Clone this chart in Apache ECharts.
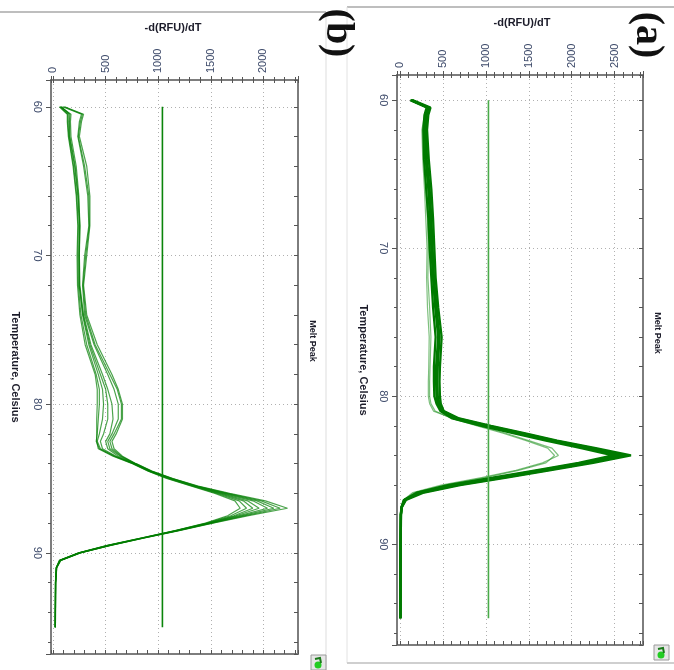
<!DOCTYPE html>
<html>
<head>
<meta charset="utf-8">
<script src="https://cdn.jsdelivr.net/npm/echarts@6/dist/echarts.min.js"></script>
<style>
html, body { margin: 0; padding: 0; background: #fff; }
#chart { width: 674px; height: 670px; }
</style>
</head>
<body>
<div id="chart"></div>
<script>
// panel (a): temperatures (Celsius) and -d(RFU)/dT of each melt curve
const tempA = [60, 60.5, 61, 62, 64, 66, 68, 70, 72, 74, 76, 78, 79, 80, 80.5, 81, 81.5, 82, 82.5, 83, 83.5, 84, 84.5, 85, 85.5, 86, 86.5, 87, 87.5, 88, 90, 92, 95]
const a1 = [145, 355, 330, 315, 335, 365, 385, 400, 415, 445, 485, 465, 460, 465, 475, 510, 690, 1060, 1460, 1830, 2280, 2690, 2250, 1740, 1240, 700, 280, 70, 22, 12, 8, 6, 5]
const a2 = [135, 335, 310, 300, 315, 345, 365, 380, 395, 425, 460, 440, 435, 440, 460, 500, 670, 1030, 1430, 1800, 2240, 2640, 2200, 1700, 1200, 660, 250, 60, 20, 11, 7, 5, 5]
const a3 = [130, 330, 305, 295, 305, 335, 355, 370, 390, 420, 455, 430, 428, 432, 450, 490, 650, 1000, 1400, 1770, 2200, 2590, 2160, 1660, 1160, 620, 230, 55, 18, 10, 7, 5, 4]
const a4 = [130, 325, 300, 290, 300, 330, 350, 365, 385, 410, 445, 420, 420, 425, 440, 480, 630, 980, 1370, 1740, 2160, 2540, 2120, 1620, 1120, 590, 210, 50, 17, 10, 6, 5, 4]
const a5 = [120, 310, 285, 272, 280, 305, 330, 345, 365, 385, 415, 395, 395, 400, 425, 470, 610, 950, 1330, 1700, 2110, 2480, 2080, 1580, 1080, 560, 200, 45, 16, 9, 6, 5, 4]
const aLow1 = [130, 320, 285, 255, 265, 285, 300, 315, 310, 320, 340, 335, 330, 330, 345, 390, 620, 930, 1230, 1500, 1770, 1845, 1660, 1350, 950, 480, 150, 40, 18, 10, 7, 5, 5]
const aLow2 = [125, 310, 290, 265, 280, 300, 320, 330, 325, 345, 360, 350, 345, 345, 360, 410, 600, 900, 1200, 1470, 1720, 1800, 1700, 1380, 990, 520, 170, 45, 20, 10, 7, 5, 5]

// panel (b)
const tempB = [60, 60.5, 61, 62, 64, 66, 68, 70, 72, 74, 76, 78, 79, 80, 81, 82, 82.5, 83, 83.5, 84, 84.5, 85, 85.5, 86, 86.5, 87, 87.5, 88, 88.5, 89, 89.5, 90, 90.5, 91, 92, 95]
const b1 = [110, 290, 270, 250, 320, 350, 350, 320, 290, 320, 420, 560, 620, 660, 660, 600, 560, 580, 660, 790, 940, 1140, 1380, 1680, 2020, 2230, 1860, 1520, 1200, 870, 550, 260, 75, 35, 25, 22]
const b2 = [100, 280, 260, 240, 300, 340, 345, 310, 285, 310, 400, 540, 610, 650, 650, 580, 540, 560, 650, 785, 935, 1135, 1370, 1660, 1980, 2160, 1830, 1510, 1190, 865, 545, 258, 72, 34, 25, 22]
const b3 = [90, 270, 250, 235, 290, 330, 340, 300, 280, 300, 390, 520, 580, 620, 620, 560, 520, 540, 640, 780, 930, 1130, 1360, 1640, 1940, 2100, 1800, 1500, 1185, 860, 540, 255, 70, 33, 24, 21]
const b4 = [70, 170, 165, 170, 220, 245, 255, 250, 255, 290, 360, 470, 520, 560, 570, 540, 500, 520, 620, 775, 925, 1120, 1350, 1620, 1900, 2040, 1770, 1490, 1180, 855, 535, 252, 68, 32, 24, 21]
const b5 = [75, 160, 155, 160, 210, 240, 255, 248, 250, 285, 350, 450, 500, 520, 520, 480, 450, 470, 600, 770, 920, 1110, 1340, 1600, 1850, 1960, 1740, 1480, 1175, 850, 530, 250, 66, 31, 23, 20]
const b6 = [80, 150, 150, 155, 205, 235, 250, 245, 248, 280, 340, 430, 470, 480, 470, 440, 420, 450, 590, 765, 915, 1100, 1330, 1580, 1810, 1900, 1720, 1470, 1170, 845, 525, 248, 64, 30, 23, 20]
const b7 = [65, 140, 140, 150, 195, 225, 240, 235, 240, 265, 320, 410, 440, 440, 430, 420, 410, 440, 580, 760, 910, 1090, 1320, 1560, 1770, 1840, 1690, 1460, 1165, 840, 520, 245, 62, 30, 22, 20]
const b8 = [60, 135, 135, 145, 190, 220, 235, 228, 232, 255, 305, 400, 420, 420, 415, 415, 415, 430, 570, 755, 905, 1080, 1310, 1540, 1730, 1780, 1660, 1450, 1160, 835, 515, 242, 60, 29, 22, 19]

// threshold lines
const thresholdTemps = [60, 95]
const thresholdA = 1030
const thresholdB = 1040

const labelColor = '#3d4a6a'
const frameColor = '#7d7d7d'

function pairs(temps, vals) {
    return vals.map(function (v, i) { return [v, temps[i]] })
}

function xAxesFor(g, min, max, mainSplit, minorSplit) {
    const base = {
        type: 'value', gridIndex: g, min: min, max: max,
        axisLine: { show: false, onZero: false },
        axisLabel: { show: false }, axisTick: { show: false }, splitLine: { show: false }
    }
    return [
        Object.assign({}, base, {
            position: 'top', splitNumber: mainSplit,
            axisLine: { show: true, onZero: false, lineStyle: { color: frameColor, width: 2 } },
            axisTick: { show: true, length: 4, lineStyle: { color: '#555' } },
            axisLabel: {
                show: true, rotate: -90, margin: 7, color: labelColor, fontSize: 11,
                fontFamily: 'Liberation Sans',
                formatter: function (v) { return v % 500 === 0 ? String(v) : '' }
            },
            splitLine: { show: true, showMinLine: false, showMaxLine: false, lineStyle: { color: '#b0b0b0', type: [1, 3] } }
        }),
        Object.assign({}, base, {
            position: 'top', splitNumber: minorSplit,
            axisTick: { show: true, length: 3, lineStyle: { color: '#555' } }
        }),
        Object.assign({}, base, {
            position: 'top', splitNumber: minorSplit,
            axisTick: { show: true, inside: true, length: 3, lineStyle: { color: '#555' } }
        }),
        Object.assign({}, base, {
            position: 'bottom', splitNumber: minorSplit,
            axisLine: { show: true, onZero: false, lineStyle: { color: frameColor, width: 2 } },
            axisTick: { show: true, inside: true, length: 4, lineStyle: { color: '#555' } }
        })
    ]
}

function yAxesFor(g, min, max) {
    const base = {
        type: 'value', gridIndex: g, min: min, max: max, inverse: true,
        axisLine: { show: false, onZero: false },
        axisLabel: { show: false }, axisTick: { show: false }, splitLine: { show: false }
    }
    return [
        Object.assign({}, base, {
            position: 'left', splitNumber: 4,
            axisLine: { show: true, onZero: false, lineStyle: { color: frameColor, width: 2 } },
            axisTick: { show: true, length: 5, lineStyle: { color: '#555' } },
            axisLabel: {
                show: true, rotate: -90, margin: 8, color: labelColor, fontSize: 11,
                fontFamily: 'Liberation Sans',
                formatter: function (v) { return v % 10 === 0 ? String(v) : '' }
            },
            splitLine: { show: true, showMinLine: false, showMaxLine: false, lineStyle: { color: '#b0b0b0', type: [1, 3] } }
        }),
        Object.assign({}, base, {
            position: 'left', splitNumber: 19,
            axisTick: { show: true, length: 3, lineStyle: { color: '#555' } }
        }),
        Object.assign({}, base, {
            position: 'right', splitNumber: 19,
            axisLine: { show: true, onZero: false, lineStyle: { color: frameColor, width: 2 } },
            axisTick: { show: true, inside: true, length: 4, lineStyle: { color: '#555' } }
        })
    ]
}

function curve(g, temps, vals, color, width) {
    return {
        type: 'line', xAxisIndex: 4 * g, yAxisIndex: 3 * g,
        data: pairs(temps, vals), showSymbol: false, silent: true,
        lineStyle: { color: color, width: width }, z: 3
    }
}

function threshold(g, value, color) {
    return {
        type: 'line', xAxisIndex: 4 * g, yAxisIndex: 3 * g,
        data: thresholdTemps.map(function (t) { return [value, t] }),
        showSymbol: false, silent: true,
        lineStyle: { color: color, width: 1.6 }, z: 4
    }
}

function vText(x, y, text, font, color) {
    return {
        type: 'text', x: x, y: y, rotation: -Math.PI / 2, z: 10,
        style: { text: text, font: font, fill: color, align: 'center', verticalAlign: 'middle', textAlign: 'center', textVerticalAlign: 'middle' }
    }
}

function hText(x, y, text, font) {
    return {
        type: 'text', x: x, y: y, z: 10,
        style: { text: text, font: font, fill: '#1c1c2a', align: 'center', verticalAlign: 'middle', textAlign: 'center', textVerticalAlign: 'middle' }
    }
}

function icon(x, y) {
    return [
        { type: 'rect', shape: { x: x, y: y, width: 15, height: 15 }, style: { fill: '#e6e6e6', stroke: '#9a9a9a', lineWidth: 1 }, z: 10 },
        { type: 'circle', shape: { cx: x + 7, cy: y + 10, r: 3.5 }, style: { fill: '#22cc22' }, z: 11 },
        { type: 'polyline', shape: { points: [[x + 4, y + 4], [x + 9, y + 3], [x + 10, y + 8]] }, style: { stroke: '#1a7a1a', lineWidth: 2, fill: null }, z: 11 }
    ]
}

const mainA = '#007a00'
const lightA = 'rgba(40,150,40,0.6)'
const lineB = 'rgba(0,125,0,0.7)'

const series = [
    threshold(0, thresholdB, '#0a850a'),
    curve(0, tempB, b1, lineB, 1.2),
    curve(0, tempB, b2, lineB, 1.2),
    curve(0, tempB, b3, lineB, 1.2),
    curve(0, tempB, b4, lineB, 1.2),
    curve(0, tempB, b5, lineB, 1.2),
    curve(0, tempB, b6, lineB, 1.2),
    curve(0, tempB, b7, lineB, 1.2),
    curve(0, tempB, b8, lineB, 1.2),
    threshold(1, thresholdA, '#48aa48'),
    curve(1, tempA, aLow1, lightA, 1.2),
    curve(1, tempA, aLow2, lightA, 1.2),
    curve(1, tempA, a1, mainA, 2.3),
    curve(1, tempA, a2, mainA, 2.3),
    curve(1, tempA, a3, mainA, 2.3),
    curve(1, tempA, a4, mainA, 2.3),
    curve(1, tempA, a5, mainA, 2.3)
]

const graphics = [
    { type: 'line', shape: { x1: 0, y1: 12, x2: 326, y2: 12 }, style: { stroke: '#a8a8a8', lineWidth: 1.5 } },
    { type: 'line', shape: { x1: 326, y1: 12, x2: 326, y2: 670 }, style: { stroke: '#dddddd', lineWidth: 1 } },
    { type: 'line', shape: { x1: 347, y1: 7, x2: 674, y2: 7 }, style: { stroke: '#a8a8a8', lineWidth: 1.5 } },
    { type: 'line', shape: { x1: 347, y1: 7, x2: 347, y2: 663 }, style: { stroke: '#e2e2e2', lineWidth: 1 } },
    { type: 'line', shape: { x1: 347, y1: 663, x2: 674, y2: 663 }, style: { stroke: '#cfcfcf', lineWidth: 2 } },
    hText(173, 28, '-d(RFU)/dT', 'bold 11px "Liberation Sans"'),
    hText(522, 23, '-d(RFU)/dT', 'bold 11px "Liberation Sans"'),
    vText(15, 367, 'Temperature, Celsius', 'bold 11px "Liberation Sans"', '#1c1c2a'),
    vText(363, 360, 'Temperature, Celsius', 'bold 11px "Liberation Sans"', '#1c1c2a'),
    vText(312, 341, 'Melt Peak', 'bold 9px "Liberation Sans"', '#1c1c2a'),
    vText(657, 333, 'Melt Peak', 'bold 9px "Liberation Sans"', '#1c1c2a'),
    vText(337, 33, '(b)', 'bold 40px "Liberation Serif"', '#111'),
    vText(647, 35, '(a)', 'bold 40px "Liberation Serif"', '#111')
].concat(icon(311, 655), icon(654, 645))

const option = {
    animation: false,
    backgroundColor: '#fff',
    grid: [
        { left: 51, top: 80, width: 247, height: 574, outerBoundsMode: 'none' },
        { left: 397, top: 75, width: 246, height: 570, outerBoundsMode: 'none' }
    ],
    xAxis: xAxesFor(0, -20, 2330, 5, 24).concat(xAxesFor(1, -35, 2830, 6, 29)),
    yAxis: yAxesFor(0, 58.2, 96.8).concat(yAxesFor(1, 58.3, 96.8)),
    series: series,
    graphic: graphics
}

const myChart = echarts.init(document.getElementById('chart'))
myChart.setOption(option)
</script>
</body>
</html>
